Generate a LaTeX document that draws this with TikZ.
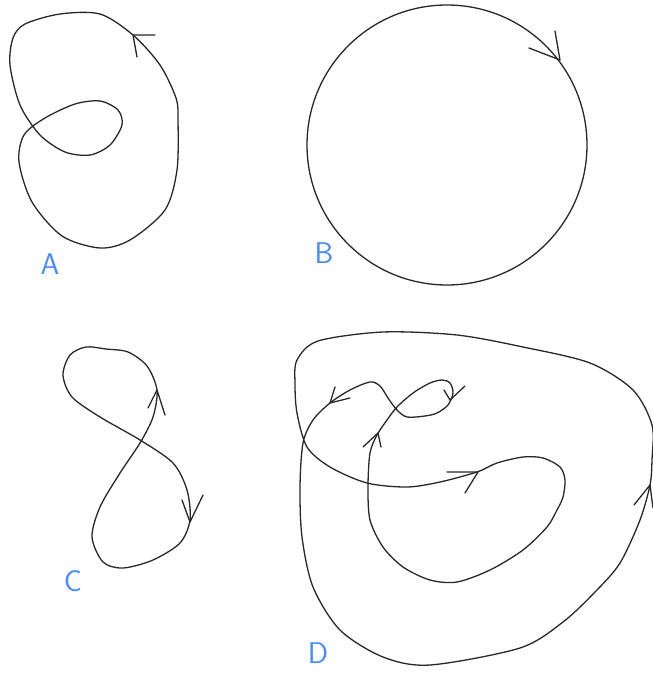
\documentclass[tikz,border=0pt]{standalone}
\usepackage{tikz}
\definecolor{penblue}{RGB}{70,140,255}
\definecolor{ink}{RGB}{40,40,40}

\begin{document}
\begin{tikzpicture}[x=1pt,y=-1pt,
  curve/.style={draw=ink,line width=1.3pt,line join=round,line cap=round},
  lbl/.style={text=penblue,font=\sffamily\fontsize{30}{30}\selectfont,inner sep=0pt}]
  \useasboundingbox (0,0) rectangle (653,673);
  \draw[curve] plot[smooth cycle] coordinates {(133,35) (160,65) (176,98) (178,120) (177,170) (165,210) (130,240) (100,248) (62,236) (32,202) (19,162) (24,135) (45,118) (75,104) (100,101) (118,110) (122,125) (110,145) (90,155) (65,152) (40,135) (20,105) (10,65) (13,38) (25,24) (60,14) (100,14)};
  \draw[curve] (155,35) -- (133,35) -- (137,57);
  \draw[curve] (447,145) circle (140pt);
  \draw[curve] (529,48) -- (560,60) -- (555,31);
  \draw[curve] plot[smooth cycle] coordinates {(86,347) (106,349) (128,352) (147,366) (157,390) (153,417) (140,443) (120,473) (100,507) (92,537) (103,562) (123,568) (153,560) (180,543) (190,520) (187,490) (173,463) (140,440) (100,417) (72,397) (63,375) (70,355)};
  \draw[curve] (148,408) -- (157,390) -- (165,415);
  \draw[curve] (182,500) -- (190,522) -- (203,495);
  \draw[curve] plot[smooth cycle] coordinates {(297,360) (318,341) (383,332) (457,335) (523,347) (590,363) (633,390) (652,425) (652,460) (650,485) (640,520) (620,563) (596,591) (563,622) (520,648) (430,665) (383,657) (340,630) (313,587) (302,537) (300,487) (303,443) (313,420) (330,403) (350,390) (370,382) (380,386) (388,398) (397,410) (407,417) (425,416) (437,413) (448,405) (453,393) (450,383) (442,380) (430,383) (413,393) (397,407) (387,420) (377,435) (370,453) (368,487) (370,520) (383,547) (403,567) (430,580) (457,582) (490,570) (523,550) (547,527) (557,510) (563,497) (565,480) (560,467) (543,458) (523,457) (497,463) (477,472) (440,482) (407,487) (367,483) (330,467) (307,447) (297,413) (295,384)};
  \draw[curve] (335,387) -- (330,403) -- (350,398);
  \draw[curve] (363,447) -- (378,433) -- (381,447);
  \draw[curve] (444,390) -- (450,400) -- (465,386);
  \draw[curve] (447,472) -- (478,472) -- (465,493);
  \draw[curve] (634,505) -- (650,485) -- (653,508);
  \node[lbl] (labA) at (50,264) {A};
  \node[lbl] (labB) at (324,253) {B};
  \node[lbl] (labC) at (73,581) {C};
  \node[lbl] (labD) at (318,653) {D};
\end{tikzpicture}
\end{document}
